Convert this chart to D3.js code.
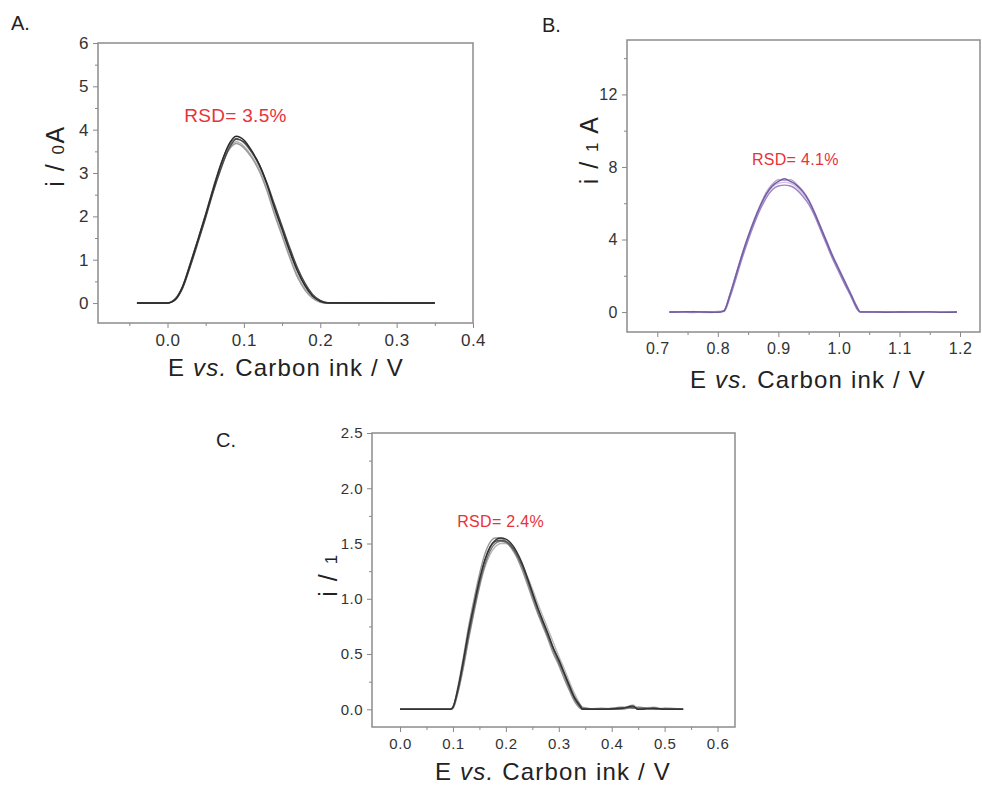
<!DOCTYPE html>
<html>
<head>
<meta charset="utf-8">
<script src="https://cdn.jsdelivr.net/npm/d3@7"></script>
<style>
body { margin: 0; background: #fff; }
text { font-family: "Liberation Sans", Arial, sans-serif; }
</style>
</head>
<body>
<script>
// ---- data ----
var aX = [-0.04, 0.0, 0.005, 0.01, 0.02, 0.03, 0.04, 0.05, 0.06, 0.07, 0.08, 0.09, 0.10, 0.11, 0.12, 0.13, 0.14, 0.15, 0.16, 0.17, 0.18, 0.19, 0.20, 0.21, 0.35];
var aRuns = [
  [0,0,0.02,0.08,0.38,0.9,1.45,2.02,2.62,3.15,3.55,3.72,3.62,3.4,3.1,2.65,2.1,1.6,1.1,0.65,0.33,0.13,0.03,0,0],
  [0,0,0.02,0.08,0.37,0.88,1.43,2.0,2.6,3.12,3.52,3.68,3.58,3.36,3.05,2.6,2.05,1.55,1.05,0.6,0.3,0.11,0.02,0,0],
  [0,0,0.03,0.1,0.4,0.93,1.48,2.06,2.67,3.22,3.62,3.8,3.7,3.48,3.18,2.75,2.22,1.72,1.2,0.74,0.4,0.17,0.05,0,0],
  [0,0,0.02,0.07,0.35,0.85,1.4,1.97,2.57,3.1,3.55,3.78,3.72,3.5,3.2,2.78,2.28,1.78,1.28,0.82,0.46,0.2,0.06,0.01,0],
  [0,0,0.02,0.08,0.39,0.91,1.47,2.04,2.64,3.2,3.65,3.85,3.76,3.52,3.2,2.75,2.2,1.7,1.2,0.75,0.4,0.16,0.04,0,0]
];
var aColors = ["#b4b4b4", "#9a9a9a", "#6e6e6e", "#4a4a4a", "#2a2a2a"];

var bX = [0.72,0.74,0.76,0.78,0.80,0.81,0.82,0.83,0.84,0.85,0.86,0.87,0.88,0.89,0.90,0.91,0.92,0.93,0.94,0.95,0.96,0.97,0.98,0.99,1.00,1.01,1.02,1.03,1.035,1.06,1.08,1.10,1.12,1.15,1.17,1.195];
var bRuns = [
  [0,-0.02,0.03,-0.03,0,0.05,0.9,2.0,3.1,4.1,5.0,5.8,6.45,6.9,7.1,7.15,7.1,6.9,6.55,6.1,5.4,4.6,3.8,3.0,2.3,1.6,0.9,0.2,0,0.02,-0.02,0.01,0,-0.02,0.02,0],
  [0.02,0,-0.03,0.02,0.01,0.08,1.0,2.1,3.2,4.2,5.1,5.9,6.6,7.05,7.3,7.25,7.3,7.05,6.7,6.2,5.5,4.7,3.9,3.1,2.4,1.7,1.0,0.3,0.02,0,0.02,-0.01,0.02,0,-0.01,0.01],
  [-0.02,0.02,0,-0.01,0.03,0.03,0.8,1.85,2.95,3.95,4.85,5.65,6.3,6.75,6.95,7.0,6.95,6.75,6.4,5.95,5.3,4.5,3.7,2.9,2.2,1.5,0.85,0.15,0,-0.02,0,0.02,-0.01,0.02,0,0],
  [0,0.01,0.02,0,-0.02,0.06,0.95,2.05,3.15,4.15,5.05,5.85,6.5,6.95,7.2,7.35,7.2,7.0,6.65,6.15,5.45,4.65,3.85,3.05,2.35,1.65,0.95,0.25,0.01,0.01,-0.01,0,0.01,0.01,-0.02,0]
];
var bColors = ["#d6bfe8", "#bc9fdc", "#9d84c8", "#6e5e9c"];

var cX = [0.0,0.05,0.095,0.10,0.11,0.12,0.13,0.14,0.15,0.16,0.17,0.18,0.19,0.20,0.21,0.22,0.23,0.24,0.25,0.26,0.27,0.28,0.29,0.30,0.31,0.32,0.33,0.34,0.345,0.38,0.42,0.44,0.45,0.48,0.50,0.535];
var cRuns = [
  [0,0,0,0.01,0.16,0.38,0.64,0.88,1.1,1.28,1.4,1.47,1.5,1.5,1.47,1.41,1.32,1.21,1.09,0.96,0.84,0.72,0.6,0.48,0.37,0.25,0.14,0.05,0.02,0,0.01,0.04,0.01,0.02,0,0],
  [0,0,0,0.02,0.22,0.48,0.76,1.0,1.22,1.4,1.51,1.55,1.55,1.52,1.46,1.38,1.27,1.14,1.0,0.87,0.75,0.63,0.5,0.4,0.28,0.17,0.07,0.01,0,0.01,0,0.02,0.01,0.01,0,0],
  [0,0,0,0.01,0.17,0.4,0.66,0.9,1.12,1.3,1.43,1.5,1.52,1.51,1.47,1.4,1.3,1.17,1.03,0.89,0.77,0.65,0.53,0.42,0.31,0.19,0.09,0.02,0,0,0.02,0.01,0.02,0,0.01,0],
  [0,0,0,0.02,0.19,0.44,0.7,0.94,1.16,1.34,1.46,1.52,1.53,1.52,1.48,1.41,1.31,1.19,1.05,0.92,0.79,0.67,0.55,0.44,0.33,0.22,0.11,0.04,0.01,0,0.01,0.02,0,0.01,0,0],
  [0,0,0,0.02,0.2,0.45,0.72,0.95,1.17,1.35,1.47,1.53,1.55,1.54,1.5,1.43,1.33,1.2,1.06,0.92,0.8,0.68,0.55,0.45,0.33,0.21,0.1,0.03,0,0,0.01,0.03,0,0.01,0,0]
];
var cColors = ["#b8b8b8", "#959595", "#767676", "#555555", "#333333"];

var aXTicks = [0.0, 0.1, 0.2, 0.3, 0.4];
var aYTicks = [0, 1, 2, 3, 4, 5, 6];
var bXTicks = [0.7, 0.8, 0.9, 1.0, 1.1, 1.2];
var bYTicks = [0, 4, 8, 12];
var cXTicks = [0.0, 0.1, 0.2, 0.3, 0.4, 0.5, 0.6];
var cYTicks = [0.0, 0.5, 1.0, 1.5, 2.0, 2.5];

var svg = d3.select("body").append("svg").attr("width", 982).attr("height", 786);

function panel(p) {
  var x = d3.scaleLinear().domain(p.xd).range([p.l, p.r]);
  var y = d3.scaleLinear().domain(p.yd).range([p.b, p.t]);
  var g = svg.append("g");

  // minor ticks
  g.append("g").attr("transform", "translate(0," + p.b + ")")
    .call(d3.axisBottom(x).tickValues(p.xMinor).tickSize(3).tickFormat(""))
    .call(function(s){ s.select(".domain").remove(); s.selectAll("line").attr("stroke", "#888"); });
  g.append("g").attr("transform", "translate(" + p.l + ",0)")
    .call(d3.axisLeft(y).tickValues(p.yMinor).tickSize(3).tickFormat(""))
    .call(function(s){ s.select(".domain").remove(); s.selectAll("line").attr("stroke", "#888"); });

  // major ticks
  g.append("g").attr("transform", "translate(0," + p.b + ")")
    .call(d3.axisBottom(x).tickValues(p.xTicks).tickSize(5).tickPadding(6).tickFormat(d3.format(".1f")))
    .call(function(s){
      s.select(".domain").remove();
      s.selectAll("line").attr("stroke", "#888");
      s.selectAll("text").attr("font-size", p.tickSize).attr("fill", "#333").attr("letter-spacing", 0.5)
        .attr("font-family", "Liberation Sans, Arial, sans-serif");
    });
  g.append("g").attr("transform", "translate(" + p.l + ",0)")
    .call(d3.axisLeft(y).tickValues(p.yTicks).tickSize(5).tickPadding(4).tickFormat(p.yFmt))
    .call(function(s){
      s.select(".domain").remove();
      s.selectAll("line").attr("stroke", "#888");
      s.selectAll("text").attr("font-size", p.tickSize).attr("fill", "#333").attr("letter-spacing", 0.5)
        .attr("font-family", "Liberation Sans, Arial, sans-serif");
    });

  g.append("rect").attr("x", p.l).attr("y", p.t).attr("width", p.r - p.l).attr("height", p.b - p.t)
    .attr("fill", "none").attr("stroke", "#8c8c8c").attr("stroke-width", 1.5);

  var line = d3.line().x(function(d){ return x(d[0]); }).y(function(d){ return y(d[1]); })
    .curve(d3.curveMonotoneX);
  p.runs.forEach(function(run, i) {
    g.append("path").datum(p.xs.map(function(v, j){ return [v, run[j]]; }))
      .attr("d", line).attr("fill", "none")
      .attr("stroke", p.colors[i]).attr("stroke-width", 1.4);
  });

  g.append("text").attr("x", x(p.rsd[0])).attr("y", y(p.rsd[1]))
    .attr("text-anchor", "middle").attr("font-size", p.rsdSize).attr("fill", "#e8323a")
    .attr("letter-spacing", 0.3).text(p.rsdText);

  var xt = g.append("text").attr("x", p.xTitle[0]).attr("y", p.xTitle[1])
    .attr("text-anchor", "middle").attr("font-size", 24).attr("letter-spacing", 1.2).attr("fill", "#222");
  xt.append("tspan").text("E ");
  xt.append("tspan").attr("font-style", "italic").text("vs.");
  xt.append("tspan").text(" Carbon ink / V");

  var yt = g.append("text").attr("transform", "translate(" + p.yTitle[0] + "," + p.yTitle[1] + ") rotate(-90)")
    .attr("text-anchor", "middle").attr("font-size", 25).attr("letter-spacing", 1.5).attr("fill", "#222");
  yt.append("tspan").text("i / ");
  yt.append("tspan").attr("font-size", 17).text(p.yDigit);
  if (p.yUnit) yt.append("tspan").text(p.yUnit);

  svg.append("text").attr("x", p.lab[0]).attr("y", p.lab[1]).attr("font-size", 20)
    .attr("fill", "#222").text(p.label);
}

panel({
  xd: [-0.091, 0.4], yd: [-0.46, 6], l: 98, r: 473, t: 43, b: 323,
  xs: aX, runs: aRuns, colors: aColors, tickSize: 17,
  xTicks: aXTicks, yTicks: aYTicks, yFmt: d3.format("d"),
  xMinor: [-0.05, 0.05, 0.15, 0.25, 0.35], yMinor: [0.5, 1.5, 2.5, 3.5, 4.5, 5.5],
  rsd: [0.089, 4.18], rsdText: "RSD= 3.5%", rsdSize: 19,
  xTitle: [286, 376], yTitle: [64, 156], yDigit: "0", yUnit: "A",
  label: "A.", lab: [11, 30]
});

panel({
  xd: [0.65, 1.233], yd: [-1.1, 15], l: 627, r: 980, t: 40, b: 332,
  xs: bX, runs: bRuns, colors: bColors, tickSize: 16,
  xTicks: bXTicks, yTicks: bYTicks, yFmt: d3.format("d"),
  xMinor: [0.75, 0.85, 0.95, 1.05, 1.15], yMinor: [2, 6, 10, 14],
  rsd: [0.928, 8.13], rsdText: "RSD= 4.1%", rsdSize: 16,
  xTitle: [808, 388], yTitle: [598, 150], yDigit: "1", yUnit: " A",
  label: "B.", lab: [542, 32]
});

panel({
  xd: [-0.053, 0.633], yd: [-0.16, 2.5], l: 372, r: 735, t: 433, b: 727,
  xs: cX, runs: cRuns, colors: cColors, tickSize: 15,
  xTicks: cXTicks, yTicks: cYTicks, yFmt: d3.format(".1f"),
  xMinor: [0.05, 0.15, 0.25, 0.35, 0.45, 0.55], yMinor: [0.25, 0.75, 1.25, 1.75, 2.25],
  rsd: [0.19, 1.65], rsdText: "RSD= 2.4%", rsdSize: 16,
  xTitle: [553, 780], yTitle: [337, 575], yDigit: "1", yUnit: "",
  label: "C.", lab: [216, 447]
});
</script>
</body>
</html>
